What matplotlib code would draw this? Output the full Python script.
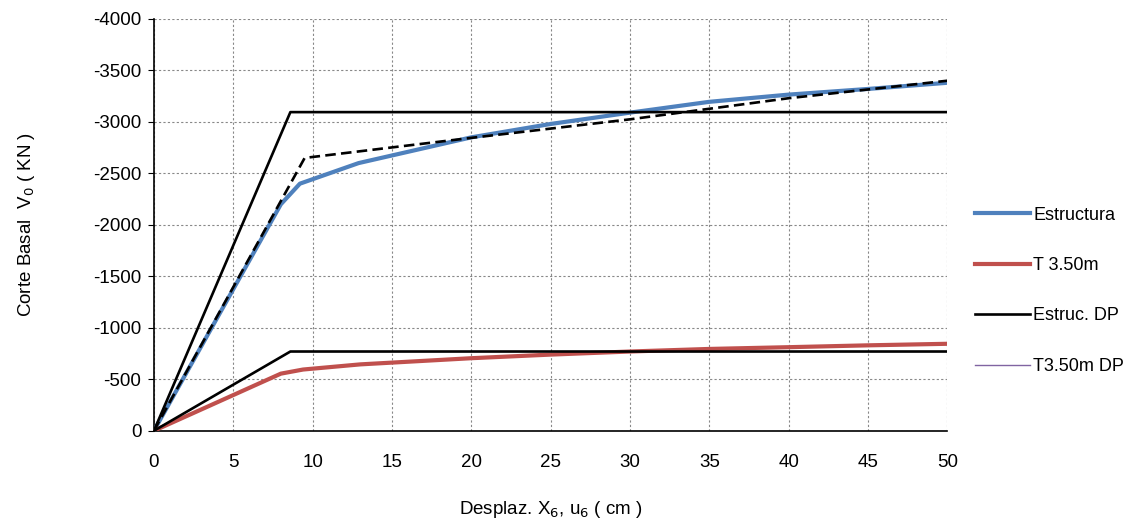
import matplotlib.pyplot as plt

plt.rcParams['font.family'] = ['Liberation Sans', 'DejaVu Sans']
plt.rcParams['axes.unicode_minus'] = False

# Estructura (capacity curve)
x_est = [0, 8.0, 9.2, 12.9, 20, 25, 30, 35, 40, 45, 50]
v_est = [0, -2200, -2400, -2600, -2850, -2980, -3090, -3195, -3265, -3320, -3380]

# T 3.50m
x_t35 = [0, 8.0, 9.4, 13, 20, 25, 30, 35, 40, 45, 50]
v_t35 = [0, -555, -595, -645, -705, -740, -770, -795, -812, -830, -845]

# Estruc. DP (bilinear)
x_edp = [0, 8.6, 50]
v_edp = [0, -3095, -3095]

# T3.50m DP (bilinear)
x_tdp = [0, 8.6, 50]
v_tdp = [0, -770, -770]

# dashed approximation (not in legend)
x_dash = [0, 9.5, 20, 30, 40, 50]
v_dash = [0, -2650, -2845, -3025, -3230, -3400]

fig = plt.figure(figsize=(11.4, 5.26), dpi=100)
ax = fig.add_axes([0.135, 0.181, 0.696, 0.783])

ax.plot(x_est, v_est, color='#4F81BD', lw=3.0, label='Estructura', zorder=3)
ax.plot(x_t35, v_t35, color='#C0504D', lw=3.0, label='T 3.50m', zorder=3)
ax.plot(x_edp, v_edp, color='black', lw=1.9, label='Estruc. DP', zorder=4)
ax.plot(x_tdp, v_tdp, color='black', lw=1.9, zorder=4)
ax.plot([], [], color='#8064A2', lw=1.0, label='T3.50m DP')
ax.plot(x_dash, v_dash, color='black', lw=1.9, ls=(0, (4, 2)), zorder=5)

ax.set_xlim(0, 50)
ax.set_ylim(0, -4000)
ax.set_xticks(range(0, 51, 5))
ax.set_yticks(range(0, -4001, -500))
ax.tick_params(axis='both', labelsize=13.5)
ax.tick_params(axis='x', length=0, pad=17)
ax.tick_params(axis='y', length=4, direction='out', pad=5)
ax.grid(True, color='#888888', ls=(0, (2, 2)), lw=0.8)
for s in ['top', 'right']:
    ax.spines[s].set_visible(False)
for s in ['left', 'bottom']:
    ax.spines[s].set_linewidth(1.2)

ax.set_xlabel('Desplaz. X$_6$, u$_6$ ( cm )', fontsize=13.5, labelpad=20)
ax.set_ylabel('Corte Basal  V$_0$ ( KN )', fontsize=13.5, labelpad=40)

ax.legend(loc='center left', bbox_to_anchor=(1.015, 0.34), frameon=False,
          fontsize=13, handlelength=3.0, handletextpad=0.2, labelspacing=1.85)

fig.savefig('out.png', dpi=100)
